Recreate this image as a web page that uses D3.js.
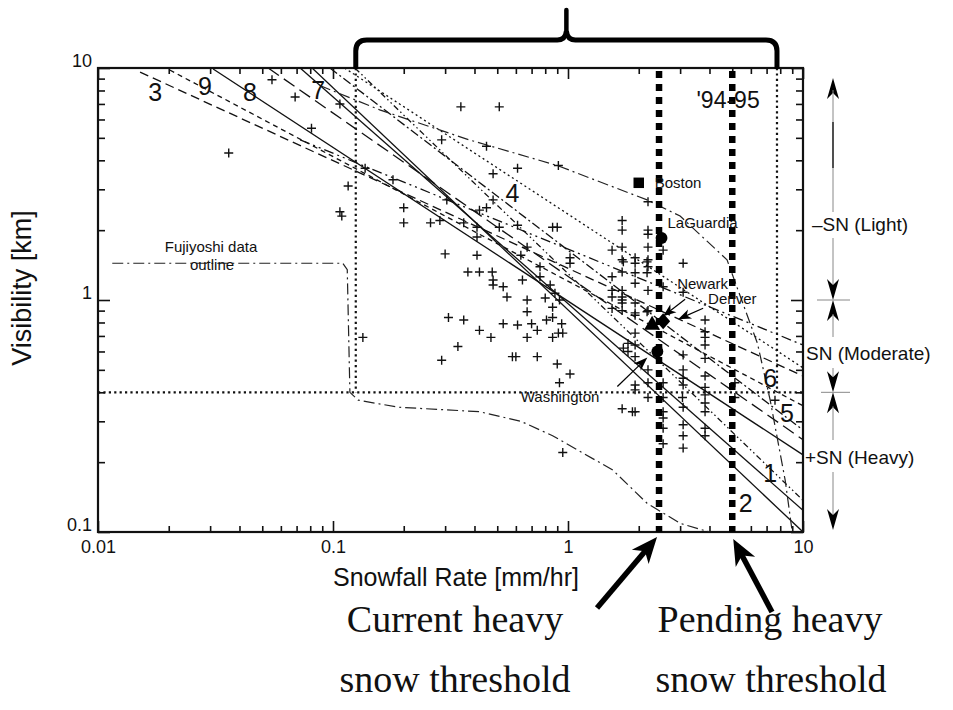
<!DOCTYPE html>
<html>
<head>
<meta charset="utf-8">
<script src="https://cdn.jsdelivr.net/npm/d3@7"></script>
<style>
  body { margin: 0; background: #fff; }
  text { font-family: "Liberation Sans", Arial, sans-serif; fill: #111; }
</style>
</head>
<body>
<svg id="chart" width="953" height="710"></svg>
<script>
// ---- data ----
const rateTicks = [0.01, 0.1, 1, 10];
const visTicks = [0.1, 1, 10];

// individual observations (+)
const obsRate = [0.055, 0.069, 0.107, 0.081, 0.036, 0.137, 0.18, 0.116, 0.107, 0.109,
  0.35, 0.51, 0.29, 0.45, 0.61, 0.48, 0.91, 0.48, 2.19, 1.70, 1.70, 2.19, 0.90, 0.86,
  0.305, 0.20, 0.20, 0.26, 0.285, 0.36, 0.42, 0.41, 0.45, 0.61, 0.51, 2.19, 2.19, 1.54,
  1.70, 2.54, 3.09, 1.93, 1.93, 1.70, 1.70, 2.19, 2.19, 1.93, 1.93, 1.54, 1.70, 1.70,
  1.70, 1.54, 1.54, 1.93, 2.19, 2.54, 3.09, 1.70, 2.19, 1.93, 3.83, 3.83, 3.83, 0.30,
  0.41, 0.41, 0.375, 0.42, 0.476, 0.48, 0.48, 0.53, 0.55, 0.64, 0.67, 0.67, 0.63, 0.67,
  0.76, 0.76, 0.84, 0.88, 0.80, 0.92, 0.86, 0.81, 0.74, 0.86, 0.94, 0.91, 0.95, 0.86,
  0.70, 0.61, 0.67, 0.53, 0.42, 0.47, 0.31, 0.36, 0.34, 0.29, 0.58, 0.60, 0.74, 0.90,
  1.02, 0.92, 1.02, 1.02, 1.72, 1.54, 1.70, 1.93, 1.93, 1.93, 1.93, 2.17, 2.17, 2.17,
  1.80, 1.80, 1.72, 1.93, 1.93, 1.70, 1.93, 2.19, 2.19, 2.54, 2.54, 2.54, 2.54, 2.54,
  2.54, 3.09, 3.09, 3.09, 3.09, 3.09, 3.09, 3.09, 3.09, 3.83, 3.83, 3.83, 3.83, 3.83,
  3.83, 3.83, 3.83, 3.83, 5.13, 5.13, 7.6, 3.07, 0.95, 1.88, 2.19, 0.134];
const obsVis = [8.9, 7.5, 7.0, 5.5, 4.3, 3.7, 3.3, 3.1, 2.4, 2.3,
  6.8, 6.8, 4.9, 4.6, 3.7, 3.5, 3.8, 2.7, 2.65, 2.2, 2.0, 2.0, 2.06, 2.06,
  2.7, 2.5, 2.15, 2.15, 2.2, 2.15, 2.44, 2.06, 2.5, 2.1, 2.06, 1.92, 1.69, 1.64,
  1.69, 1.64, 1.44, 1.52, 1.44, 1.49, 1.32, 1.49, 1.39, 1.31, 1.18, 1.26, 1.10, 1.03,
  0.97, 1.10, 1.03, 0.97, 1.10, 1.14, 1.08, 0.90, 0.90, 0.86, 0.82, 0.73, 0.69, 1.58,
  1.87, 1.56, 1.32, 1.32, 1.32, 1.16, 1.22, 1.14, 1.03, 1.22, 1.0, 0.89, 1.56, 1.69,
  1.39, 1.26, 1.16, 1.07, 1.02, 1.0, 0.93, 0.82, 0.74, 0.84, 0.79, 0.72, 0.72, 0.69,
  0.79, 0.78, 0.69, 0.79, 0.74, 0.69, 0.84, 0.82, 0.63, 0.55, 0.57, 0.57, 0.57, 0.53,
  0.48, 0.44, 1.52, 1.44, 1.46, 0.92, 1.0, 0.88, 0.72, 0.64, 0.57, 1.46, 1.31, 0.89,
  0.65, 0.60, 0.62, 0.43, 0.41, 0.34, 0.33, 0.50, 0.44, 0.44, 0.38, 0.33, 0.31, 0.28,
  0.24, 0.58, 0.50, 0.46, 0.43, 0.345, 0.29, 0.26, 0.23, 0.64, 0.56, 0.47, 0.42, 0.39,
  0.36, 0.33, 0.28, 0.26, 0.44, 0.38, 0.37, 0.38, 0.22, 0.33, 0.38, 0.69];

// city reports
const cityNames = ["Boston", "LaGuardia", "Newark", "Denver", "Washington"];
const cityRate = [2.0, 2.5, 2.54, 2.28, 2.4];
const cityVis = [3.2, 1.85, 0.81, 0.78, 0.6];
const cityShape = ["square", "circle", "diamond", "triangle", "circle"];

// published relations (two end points each: rate, visibility)
const curveNames = ["3", "9", "8", "7", "1", "2", "4", "5", "6", "x"];
const curveRate = [[0.0151, 10], [0.0202, 10], [0.0309, 10], [0.053, 10], [0.0725, 10],
  [0.0815, 10], [0.124, 10], [0.097, 10], [0.112, 10], [0.0725, 10]];
const curveVis = [[9.6, 0.47], [9.8, 0.35], [9.9, 0.215], [10, 0.25], [10, 0.124],
  [10, 0.1], [10, 0.137], [10, 0.275], [10, 0.51], [4.9, 0.64]];
const curveDash = ["9,5", "5,4", null, "13,6", null, null, "6,3,1.5,3,1.5,3", "9,3,2,3", "2,3", "10,4,2,4,2,4"];

// curve number labels
const labelText = ["3", "9", "8", "7", "4", "'94-95", "6", "5", "1", "2"];
const labelRate = [0.0175, 0.0285, 0.0443, 0.0864, 0.58, 4.8, 7.25, 8.55, 7.25, 5.7];
const labelVis = [7.9, 8.4, 7.9, 8.0, 2.9, 7.3, 0.46, 0.325, 0.18, 0.133];

// Fujiyoshi data outline
const fujiLowRate = [0.0115, 0.110, 0.115, 0.118, 0.128, 0.19, 0.42, 0.63, 0.86, 1.55, 2.17, 3.0, 4.0];
const fujiLowVis = [1.44, 1.44, 1.35, 0.40, 0.37, 0.345, 0.33, 0.30, 0.26, 0.185, 0.133, 0.109, 0.1];
const fujiHighRate = [0.088, 0.158, 0.38, 0.90, 2.17, 3.0, 4.75, 6.4, 7.25, 8.4, 9.0];
const fujiHighVis = [8.4, 6.6, 4.9, 3.8, 2.7, 2.3, 1.49, 0.65, 0.37, 0.167, 0.1];

// '94-95 box and thresholds
const seasonRate = [0.125, 7.75];
const seasonVis = 0.4;
const heavyRate = [2.44, 5.0];
const classVis = [1, 0.4];

// ---- drawing ----
const svg = d3.select("#chart");
const x = d3.scaleLog().domain([0.01, 10]).range([98, 803]);
const y = d3.scaleLog().domain([0.1, 10]).range([532, 68]);

function minors(lo, hi) {
  const out = [];
  for (let d = lo; d < hi * 0.99; d *= 10)
    for (let k = 2; k <= 9; k++) out.push(+(d * k).toPrecision(3));
  return out;
}

svg.append("defs").append("clipPath").attr("id", "plot")
  .append("rect").attr("x", 98).attr("y", 68).attr("width", 705).attr("height", 464);

const fmt = d3.format("~g");
const axFont = (g) => g.attr("font-family", "Liberation Sans, Arial, sans-serif").attr("font-size", 18);

// bottom
svg.append("g").attr("transform", "translate(0,532)")
  .call(d3.axisBottom(x).tickValues(minors(0.01, 10)).tickSize(-6).tickFormat(""))
  .call(g => g.select(".domain").remove());
svg.append("g").attr("transform", "translate(0,532)")
  .call(d3.axisBottom(x).tickValues(rateTicks).tickSizeInner(-11).tickSizeOuter(0).tickPadding(8).tickFormat(fmt))
  .call(axFont)
  .call(g => g.select(".domain").remove());
// top
svg.append("g").attr("transform", "translate(0,68)")
  .call(d3.axisTop(x).tickValues(minors(0.01, 10)).tickSize(-6).tickFormat(""))
  .call(g => g.select(".domain").remove());
svg.append("g").attr("transform", "translate(0,68)")
  .call(d3.axisTop(x).tickValues(rateTicks).tickSize(-11).tickFormat(""))
  .call(g => g.select(".domain").remove());
// left
svg.append("g").attr("transform", "translate(98,0)")
  .call(d3.axisLeft(y).tickValues(minors(0.1, 10)).tickSize(-7).tickFormat(""))
  .call(g => g.select(".domain").remove());
svg.append("g").attr("transform", "translate(98,0)")
  .call(d3.axisLeft(y).tickValues(visTicks).tickSizeInner(-12).tickSizeOuter(0).tickPadding(6).tickFormat(fmt))
  .call(axFont)
  .call(g => g.select(".domain").remove())
  .call(g => g.selectAll("text").attr("y", -7));
// right
svg.append("g").attr("transform", "translate(803,0)")
  .call(d3.axisRight(y).tickValues(minors(0.1, 10)).tickSize(-7).tickFormat(""))
  .call(g => g.select(".domain").remove());
svg.append("g").attr("transform", "translate(803,0)")
  .call(d3.axisRight(y).tickValues(visTicks).tickSize(-12).tickFormat(""))
  .call(g => g.select(".domain").remove());

svg.selectAll(".tick line").attr("stroke", "#111").attr("stroke-width", 1.6);

svg.append("rect").attr("x", 98).attr("y", 68).attr("width", 705).attr("height", 464)
  .attr("fill", "none").attr("stroke", "#111").attr("stroke-width", 2.2);

// axis titles
svg.append("text").attr("x", 456).attr("y", 586).attr("text-anchor", "middle")
  .attr("font-size", 25).text("Snowfall Rate [mm/hr]");
svg.append("text").attr("transform", "translate(31,288) rotate(-90)")
  .attr("text-anchor", "middle").attr("font-size", 27).text("Visibility [km]");

const plot = svg.append("g").attr("clip-path", "url(#plot)");
const line = d3.line().x(d => x(d[0])).y(d => y(d[1]));

// relation lines
curveNames.forEach((name, i) => {
  const pts = curveRate[i].map((r, j) => [r, curveVis[i][j]]);
  plot.append("path").attr("d", line(pts))
    .attr("fill", "none").attr("stroke", "#111").attr("stroke-width", 1.3)
    .attr("stroke-dasharray", curveDash[i]);
});

// Fujiyoshi outline
[[fujiLowRate, fujiLowVis], [fujiHighRate, fujiHighVis]].forEach(([rs, vs]) => {
  plot.append("path").attr("d", line(rs.map((r, j) => [r, vs[j]])))
    .attr("fill", "none").attr("stroke", "#222").attr("stroke-width", 1.2)
    .attr("stroke-dasharray", "11,4,2,4");
});

// '94-95 box (thin dotted)
const dotStyle = (p) => p.attr("fill", "none").attr("stroke", "#111").attr("stroke-width", 2.2).attr("stroke-dasharray", "2.2,3.2");
plot.append("path").attr("d", line([[0.01, seasonVis], [10, seasonVis]])).call(dotStyle);
seasonRate.forEach(r => {
  plot.append("path").attr("d", line([[r, 10], [r, seasonVis]])).call(dotStyle);
});

// observations
plot.selectAll("path.obs").data(obsRate).join("path").attr("class", "obs")
  .attr("transform", (d, i) => `translate(${x(d)},${y(obsVis[i])})`)
  .attr("d", "M-4.5,0H4.5M0,-4.5V4.5")
  .attr("stroke", "#111").attr("stroke-width", 1.4);

// heavy snow thresholds (thick dotted)
heavyRate.forEach(r => {
  svg.append("line").attr("x1", x(r)).attr("x2", x(r)).attr("y1", y(10) + 3).attr("y2", y(0.1))
    .attr("stroke", "#000").attr("stroke-width", 6.5).attr("stroke-dasharray", "7,6");
});

// curve labels
svg.selectAll("text.lab").data(labelText).join("text").attr("class", "lab")
  .attr("x", (d, i) => x(labelRate[i])).attr("y", (d, i) => y(labelVis[i]))
  .attr("text-anchor", "middle").attr("dominant-baseline", "central")
  .attr("font-size", (d) => d.length > 1 ? 23 : 25).text(d => d);

// Fujiyoshi label
svg.append("text").attr("x", 211).attr("y", 252).attr("text-anchor", "middle").attr("font-size", 15).text("Fujiyoshi data");
svg.append("text").attr("x", 212).attr("y", 270).attr("text-anchor", "middle").attr("font-size", 15).text("outline");

// city markers
const shapePath = {
  square: d3.symbol(d3.symbolSquare, 110)(),
  circle: d3.symbol(d3.symbolCircle, 110)(),
  diamond: "M0,-8L7,0L0,8L-7,0Z",
  triangle: d3.symbol(d3.symbolTriangle, 110)()
};
cityNames.forEach((c, i) => {
  svg.append("path").attr("d", shapePath[cityShape[i]])
    .attr("transform", `translate(${x(cityRate[i])},${y(cityVis[i])})`).attr("fill", "#000");
});
const cityLabelDx = [16, 6, 14, 56, -58];
const cityLabelDy = [0, -16, -38, -27, 45];
cityNames.forEach((c, i) => {
  svg.append("text").attr("x", x(cityRate[i]) + cityLabelDx[i]).attr("y", y(cityVis[i]) + cityLabelDy[i])
    .attr("dominant-baseline", "central").attr("text-anchor", cityLabelDx[i] < 0 ? "end" : "start")
    .attr("font-size", 15).text(c);
});

function arrowHead(x1, y1, x2, y2, len, half) {
  const a = Math.atan2(y2 - y1, x2 - x1), c = Math.cos(a), s = Math.sin(a);
  const bx = x2 - len * c, by = y2 - len * s;
  const mx = x2 - len * 0.72 * c, my = y2 - len * 0.72 * s;
  return `M${x2},${y2}L${bx - s * half},${by + c * half}L${mx},${my}L${bx + s * half},${by - c * half}Z`;
}
function arrow(x1, y1, x2, y2, w, len, half) {
  const a = Math.atan2(y2 - y1, x2 - x1);
  svg.append("line").attr("x1", x1).attr("y1", y1)
    .attr("x2", x2 - len * 0.6 * Math.cos(a)).attr("y2", y2 - len * 0.6 * Math.sin(a))
    .attr("stroke", "#000").attr("stroke-width", w);
  svg.append("path").attr("d", arrowHead(x1, y1, x2, y2, len, half)).attr("fill", "#000");
}

// city pointers
const nx = x(cityRate[2]), ny = y(cityVis[2]);
arrow(nx + 22, ny - 22, nx, ny - 5, 1.2, 13, 5);
arrow(nx + 40, ny - 13, nx + 15, ny - 2, 1.2, 13, 5);
const wx = x(cityRate[4]), wy = y(cityVis[4]);
arrow(wx - 40, wy + 35, wx - 10, wy + 6, 1.2, 14, 5);

// brace over the '94-95 range
const bL = x(seasonRate[0]), bR = x(seasonRate[1]), bM = (bL + bR) / 2;
svg.append("path")
  .attr("d", `M${bL},69V51Q${bL},40 ${bL + 11},40H${bM - 9}Q${bM - 1},40 ${bM},31Q${bM + 1},40 ${bM + 9},40H${bR - 11}Q${bR},40 ${bR},51V69`)
  .attr("fill", "none").attr("stroke", "#000").attr("stroke-width", 5);
svg.append("line").attr("x1", bM).attr("x2", bM).attr("y1", 33).attr("y2", 10)
  .attr("stroke", "#000").attr("stroke-width", 4.5).attr("stroke-linecap", "round");

// bottom arrows to thresholds
arrow(597, 608, x(heavyRate[0]) - 2, 537, 5.5, 26, 11);
arrow(772, 612, x(heavyRate[1]) + 1, 539, 5.5, 26, 11);

svg.append("g").attr("font-size", 38).attr("text-anchor", "middle")
  .call(g => {
    g.append("text").attr("x", 455).attr("y", 632).style("font-family", "Liberation Serif, serif").text("Current heavy");
    g.append("text").attr("x", 455).attr("y", 692).style("font-family", "Liberation Serif, serif").text("snow threshold");
    g.append("text").attr("x", 770).attr("y", 632).style("font-family", "Liberation Serif, serif").text("Pending heavy");
    g.append("text").attr("x", 771).attr("y", 692).style("font-family", "Liberation Serif, serif").text("snow threshold");
  });

// precipitation intensity classes on the right
const ax = 833;
const gray = (x1, y1, x2, y2, w, col) => svg.append("line").attr("x1", x1).attr("y1", y1)
  .attr("x2", x2).attr("y2", y2).attr("stroke", col || "#888").attr("stroke-width", w || 1);
const head = (tipY, dir) => svg.append("path")
  .attr("d", `M${ax},${tipY}L${ax - 6},${tipY - dir * 21}L${ax},${tipY - dir * 15}L${ax + 6},${tipY - dir * 21}Z`)
  .attr("fill", "#000");
const yTop = y(10) + 10, y1 = y(classVis[0]), y2 = y(classVis[1]), yBot = y(0.1) - 2;
head(yTop, -1);
gray(ax, yTop + 12, ax, 212);
gray(ax, 122, ax, 168, 1.6, "#333");
gray(ax, 238, ax, y1 - 14);
head(y1, 1); head(y1, -1);
gray(ax - 16, y1, ax + 17, y1);
gray(ax, y1 + 14, ax, 337);
gray(ax, 368, ax, y2 - 14);
head(y2, 1); head(y2, -1);
gray(ax - 12, y2, ax + 17, y2);
gray(ax, y2 + 14, ax, 440);
gray(ax, 472, ax, yBot - 14);
head(yBot, 1);

svg.append("text").attr("x", 812).attr("y", 224).attr("dominant-baseline", "central").attr("font-size", 19).text("–SN (Light)");
svg.append("text").attr("x", 806).attr("y", 353).attr("dominant-baseline", "central").attr("font-size", 19).text("SN (Moderate)");
svg.append("text").attr("x", 805).attr("y", 457).attr("dominant-baseline", "central").attr("font-size", 19).text("+SN (Heavy)");
</script>
</body>
</html>
